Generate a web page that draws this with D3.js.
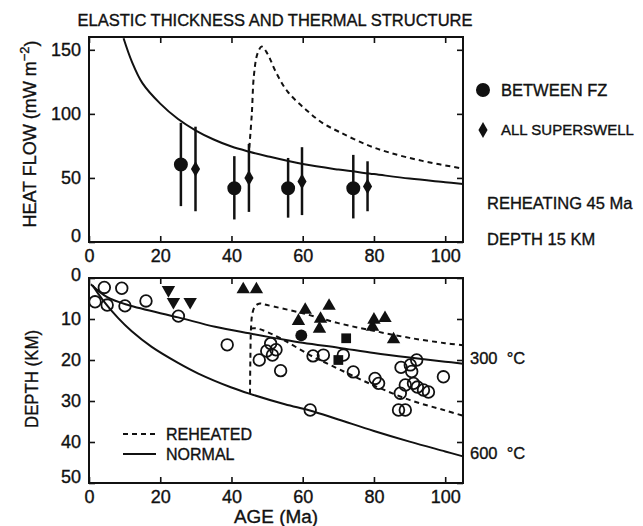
<!DOCTYPE html>
<html>
<head>
<meta charset="utf-8">
<script src="https://cdn.jsdelivr.net/npm/d3@7"></script>
<style>
    body { margin: 0; background: #fff; }
    svg { display: block; }
    text { font-family: "Liberation Sans", Arial, sans-serif; fill: #111; stroke: #111; stroke-width: 0.35; }
</style>
</head>
<body>
<div id="wrapper"></div>
<script>
// TICKS
const ageTicks = [0, 20, 40, 60, 80, 100]
const heatTicks = [0, 50, 100, 150]
const depthTicks = [0, 10, 20, 30, 40, 50]

// TOP PANEL: heat flow curves [age, heat flow]
const normalHeat = [[9.7,159],[12,141],[15,124],[20,108],[25,96],[30,87],[35,80],[40,74.5],[45,70.5],
    [50,67],[60,60.8],[70,56.5],[80,53],[90,49.5],[100,46.7],[105,45.3]]
const reheatHeat = [[45,73.6],[45.7,99.5],[46.3,130],[47.3,147],[48.5,152.5],[50.1,147],[52.4,133],
    [55.7,117.6],[60.9,103.3],[65.5,93],[70.2,86],[77.7,76.2],[84.3,69.8],[93.6,63.3],[105,57.3]]

// heat flow data: age, value, low, high
const betweenFZ = [[25.8,60.5,28,93],[40.8,42,17.6,67],[55.9,42,19,65.6],[74.2,42,18.4,68]]
const allSuperswell = [[29.9,57,24,90],[44.9,50,23.5,76.5],[59.8,47.3,21,74],[78.2,43.4,24,63]]

// BOTTOM PANEL: isotherms [age, depth]
const normal300 = [[0.5,1.5],[5,4.6],[11,6.6],[25,9.6],[35.4,11.9],[45,13.5],[60,15.8],[70,17],
    [80,18.3],[90,19.4],[100,20.4],[105,20.9]]
const normal600 = [[1,1.8],[4,5.5],[8.2,9.8],[12,13],[17.6,16.8],[25,20.7],[30.7,23.3],[40,26.7],
    [45,28.2],[55,30.8],[62,32.3],[70,34.5],[80,37.3],[90,39.9],[100,42.3],[105,43.5]]
const reheat300 = [[45.2,28.2],[45.3,20],[45.5,12],[45.9,8.5],[46.7,6.8],[48,6.2],[50,6.6],[60,8.6],
    [70,11],[80,12.9],[90,14.6],[100,15.9],[105,16.4]]
const reheat600 = [[45.4,12.3],[47,12.3],[49,12.8],[54.6,15.1],[62,18.8],[67.7,21.2],[78.9,25.8],
    [90.2,29.8],[100,32.3],[105,33.6]]

// elastic thickness estimates [age, depth]
const openCircles = [[1.7,5.8],[4.3,2.3],[5.1,6.6],[9.2,2.5],[10.1,6.8],[16,5.6],[25.1,9.3],[38.8,16.3],
    [47.8,20],[49.9,17.8],[51,16],[52.5,17.5],[51.5,18.8],[53.8,22.6],[62.1,32.2],[62.9,19],[65.8,18.8],
    [71.4,18.8],[74.2,22.9],[80.3,24.5],[81.3,25.7],[86.9,32.2],[88.8,32.2],[87.4,28.1],[87.6,21.8],
    [90.2,21.2],[92,20],[90.6,22.8],[91.1,25.7],[88.8,26.1],[92.2,26.6],[93.9,27.3],[95.3,27.8],[99.5,24.1]]
const upTriangles = [[43.3,2.8],[47,2.8],[58.8,10.5],[60.7,7.8],[64.7,12.4],[65,10],[67.4,6.8],
    [79.6,11.9],[80,10.2],[83.1,9.8],[85.5,15]]
const downTriangles = [[22.3,2.9],[23.7,5.8],[28.4,5.8]]
const filledSquares = [[72.2,14.7],[70,20]]
const filledCircles = [[59.6,14]]

// WRAPPER
const width = 643, height = 526
const svg = d3.select('#wrapper').append('svg')
    .attr('width', width)
    .attr('height', height)
svg.append('rect').attr('width', width).attr('height', height).attr('fill', '#fff')

const x = d3.scaleLinear().domain([0, 105]).range([89, 463])
const yHeat = d3.scaleLinear().domain([0, 160]).range([242, 37])
const yDepth = d3.scaleLinear().domain([0, 50]).range([278, 483])

const fontSize = 18
const noteSize = 16.5

// frame + inward ticks on all four sides
function drawFrame(y, yTicks) {
    const [y0, y1] = y.range()
    const top = Math.min(y0, y1), bottom = Math.max(y0, y1)
    const g = svg.append('g')

    const bottomAxis = g.append('g').attr('transform', `translate(0,${bottom})`)
        .call(d3.axisBottom(x).tickValues(ageTicks).tickSize(-6).tickPadding(7).tickFormat(d3.format('d')))
    g.append('g').attr('transform', `translate(0,${top})`)
        .call(d3.axisTop(x).tickValues(ageTicks).tickSize(-6).tickFormat(''))
    const leftAxis = g.append('g').attr('transform', `translate(${x.range()[0]},0)`)
        .call(d3.axisLeft(y).tickValues(yTicks).tickSize(-6).tickPadding(8).tickFormat(d3.format('d')))
    g.append('g').attr('transform', `translate(${x.range()[1]},0)`)
        .call(d3.axisRight(y).tickValues(yTicks).tickSize(-6).tickFormat(''))

    g.selectAll('.domain').remove()
    g.selectAll('.tick line').attr('stroke', '#111').attr('stroke-width', 1.6)
    g.selectAll('.tick text')
        .attr('font-size', fontSize)
        .attr('font-family', '"Liberation Sans", Arial, sans-serif')
        .attr('fill', '#111')

    g.append('rect')
        .attr('x', x.range()[0]).attr('y', top)
        .attr('width', x.range()[1] - x.range()[0])
        .attr('height', bottom - top)
        .attr('fill', 'none').attr('stroke', '#111').attr('stroke-width', 2)

    return { bottomAxis, leftAxis }
}

const topFrame = drawFrame(yHeat, heatTicks)
const botFrame = drawFrame(yDepth, depthTicks)

// nudge end labels away from the corners
topFrame.leftAxis.selectAll('.tick').filter(d => d === 0).select('text').attr('y', -6)
botFrame.leftAxis.selectAll('.tick').filter(d => d === 0).select('text').attr('y', -3)
botFrame.leftAxis.selectAll('.tick').filter(d => d === 50).select('text').attr('y', -6)

// LINES
const lineHeat = d3.line().x(d => x(d[0])).y(d => yHeat(d[1])).curve(d3.curveCatmullRom)
const lineDepth = d3.line().x(d => x(d[0])).y(d => yDepth(d[1])).curve(d3.curveCatmullRom)

function drawLine(data, gen, dashed) {
    svg.append('path')
        .attr('d', gen(data))
        .attr('fill', 'none')
        .attr('stroke', '#111')
        .attr('stroke-width', 2)
        .attr('stroke-dasharray', dashed ? '5,4' : null)
}

drawLine(normalHeat, lineHeat, false)
drawLine(reheatHeat, lineHeat, true)
drawLine(normal300, lineDepth, false)
drawLine(normal600, lineDepth, false)
drawLine(reheat300, lineDepth, true)
drawLine(reheat600, lineDepth, true)

// HEAT FLOW POINTS WITH ERROR BARS
function heatPoints(data, type, size) {
    svg.selectAll(null).data(data).enter().append('line')
        .attr('x1', d => x(d[0])).attr('x2', d => x(d[0]))
        .attr('y1', d => yHeat(d[2])).attr('y2', d => yHeat(d[3]))
        .attr('stroke', '#111').attr('stroke-width', 2.5)
    svg.selectAll(null).data(data).enter().append('path')
        .attr('d', d3.symbol(type, size))
        .attr('transform', d => `translate(${x(d[0])},${yHeat(d[1])})`)
        .attr('fill', '#111')
}
heatPoints(betweenFZ, d3.symbolCircle, 154)
heatPoints(allSuperswell, d3.symbolDiamond, 72)

// DEPTH POINTS
svg.selectAll(null).data(openCircles).enter().append('circle')
    .attr('cx', d => x(d[0])).attr('cy', d => yDepth(d[1]))
    .attr('r', 5.8)
    .attr('fill', 'none').attr('stroke', '#111').attr('stroke-width', 1.8)

function depthSymbols(data, type, size, rotate) {
    svg.selectAll(null).data(data).enter().append('path')
        .attr('d', d3.symbol(type, size))
        .attr('transform', d => `translate(${x(d[0])},${yDepth(d[1])}) rotate(${rotate})`)
        .attr('fill', '#111')
}
depthSymbols(upTriangles, d3.symbolTriangle, 78, 0)
depthSymbols(downTriangles, d3.symbolTriangle, 78, 180)
depthSymbols(filledSquares, d3.symbolSquare, 95, 0)
depthSymbols(filledCircles, d3.symbolCircle, 110, 0)

// TITLE AND LABELS
svg.append('text')
    .attr('x', 275).attr('y', 20.5).attr('dy', '0.35em')
    .attr('text-anchor', 'middle')
    .attr('font-size', 16)
    .attr('textLength', 395).attr('lengthAdjust', 'spacingAndGlyphs')
    .text('ELASTIC THICKNESS AND THERMAL STRUCTURE')

const heatLabel = svg.append('text')
    .attr('transform', 'translate(30,134) rotate(-90)')
    .attr('dy', '0.35em')
    .attr('text-anchor', 'middle')
    .attr('font-size', fontSize)
heatLabel.append('tspan').text('HEAT FLOW (mW m')
heatLabel.append('tspan').attr('font-size', 13).attr('dy', '-0.6em').text('−2')
heatLabel.append('tspan').attr('dy', '0.45em').text(')')

svg.append('text')
    .attr('transform', 'translate(32,379) rotate(-90)')
    .attr('dy', '0.35em')
    .attr('text-anchor', 'middle')
    .attr('font-size', fontSize)
    .attr('textLength', 98).attr('lengthAdjust', 'spacingAndGlyphs')
    .text('DEPTH (KM)')

svg.append('text')
    .attr('x', 276).attr('y', 517).attr('dy', '0.35em')
    .attr('text-anchor', 'middle')
    .attr('font-size', fontSize)
    .attr('textLength', 84).attr('lengthAdjust', 'spacingAndGlyphs')
    .text('AGE (Ma)')

// RIGHT SIDE LEGEND + NOTES
svg.append('path').attr('d', d3.symbol(d3.symbolCircle, 154))
    .attr('transform', 'translate(483,90)').attr('fill', '#111')
svg.append('path').attr('d', d3.symbol(d3.symbolDiamond, 72))
    .attr('transform', 'translate(483,130)').attr('fill', '#111')

const notes = [
    { text: 'BETWEEN FZ', x: 501, y: 90, size: noteSize },
    { text: 'ALL SUPERSWELL', x: 501, y: 130, size: 15 },
    { text: 'REHEATING 45 Ma', x: 487, y: 203, size: noteSize },
    { text: 'DEPTH 15 KM', x: 487, y: 239, size: noteSize },
    { text: '300\u00a0 °C', x: 470, y: 358, size: noteSize },
    { text: '600\u00a0 °C', x: 470, y: 453, size: noteSize },
]
svg.selectAll(null).data(notes).enter().append('text')
    .attr('x', d => d.x).attr('y', d => d.y).attr('dy', '0.35em')
    .attr('font-size', d => d.size)
    .text(d => d.text)

// BOTTOM LEGEND
const legendRows = [
    { label: 'REHEATED', dashed: true, y: 434 },
    { label: 'NORMAL', dashed: false, y: 454 },
]
legendRows.forEach(r => {
    svg.append('line')
        .attr('x1', 123).attr('x2', 156).attr('y1', r.y).attr('y2', r.y)
        .attr('stroke', '#111').attr('stroke-width', 2)
        .attr('stroke-dasharray', r.dashed ? '5,4' : null)
    svg.append('text')
        .attr('x', 166).attr('y', r.y).attr('dy', '0.35em')
        .attr('font-size', 16)
        .text(r.label)
})
</script>
</body>
</html>
